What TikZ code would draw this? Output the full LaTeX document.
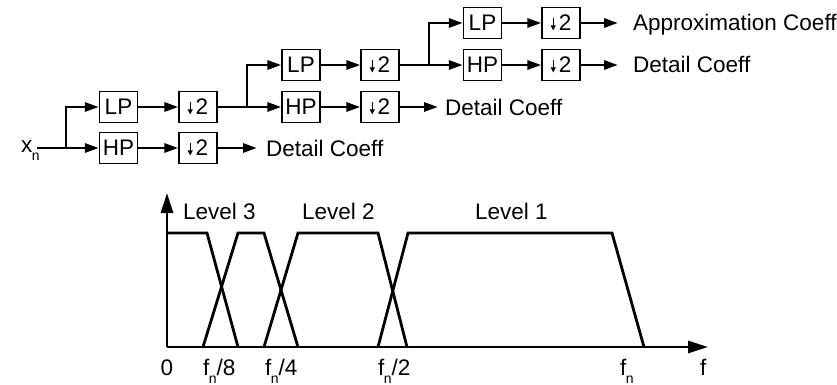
\documentclass[tikz,border=0pt]{standalone}
\usepackage{fontspec}
\setmainfont{Liberation Sans}
\usetikzlibrary{arrows.meta}
\newcommand{\subn}{\kern-0.5pt\raisebox{-8.5pt}{\fontsize{14}{14}\selectfont n}}
\newcommand{\dnarrow}{\tikz[x=1pt,y=1pt,baseline=0pt]\draw[line width=1pt,-{Triangle[length=5pt,width=5pt]}] (0,13) -- (0,0.5);}
\newcommand{\downtwo}{\dnarrow\kern3pt 2}
\tikzset{
  sig/.style={line width=2.8pt, -{Triangle[length=14pt,width=9pt]}},
  blk/.style={draw, line width=1.3pt, minimum width=38pt, minimum height=31pt, inner sep=0pt,
              font=\fontsize{22.5}{26}\selectfont},
  lbl/.style={inner sep=0pt, font=\fontsize{22.5}{26}\selectfont},
  curve/.style={line width=2.8pt, line join=miter},
  axis/.style={line width=2.8pt, -{Triangle[length=20pt,width=12pt]}},
}
\begin{document}
\begin{tikzpicture}[x=1pt,y=-1pt]
\useasboundingbox (0,0) rectangle (837,385);

% ---- filter bank ----
% level 1
\node[blk] (HP1) at (118.5,148) {HP};
\node[blk] (LP1) at (118.5,107) {LP};
\node[blk] (DH1) at (198,148) {\downtwo};
\node[blk] (DL1) at (198,107) {\downtwo};
% level 2
\node[blk] (LP2) at (301,65) {LP};
\node[blk] (HP2) at (301,107) {HP};
\node[blk] (DL2) at (380,65) {\downtwo};
\node[blk] (DH2) at (380,107) {\downtwo};
% level 3
\node[blk] (LP3) at (482.5,23) {LP};
\node[blk] (HP3) at (482.5,65) {HP};
\node[blk] (DL3) at (561,23) {\downtwo};
\node[blk] (DH3) at (561,65) {\downtwo};

% input
\node[lbl, anchor=base west] (xn) at (21,152) {x\subn};
\coordinate (in) at (37,148);
\coordinate (b1) at (66,148);
\coordinate (b2) at (247,107);
\coordinate (b3) at (429,65);

\draw[sig] (in) -- (HP1);
\draw[sig] (b1) |- (LP1.west);
\draw[sig] (LP1) -- (DL1);
\draw[sig] (HP1) -- (DH1);
\draw[sig] (DL1) -- (HP2);
\draw[sig] (b2) |- (LP2.west);
\draw[sig] (LP2) -- (DL2);
\draw[sig] (HP2) -- (DH2);
\draw[sig] (DL2) -- (HP3);
\draw[sig] (b3) |- (LP3.west);
\draw[sig] (LP3) -- (DL3);
\draw[sig] (HP3) -- (DH3);

% outputs
\coordinate (oD1) at (257,148);
\coordinate (oD2) at (438,107);
\coordinate (oA3) at (618,23);
\coordinate (oD3) at (618,65);
\node[lbl, anchor=base west] (tD1) at (266,156) {Detail Coeff};
\node[lbl, anchor=base west] (tD2) at (445,115) {Detail Coeff};
\node[lbl, anchor=base west] (tA3) at (633,31) {Approximation Coeff};
\node[lbl, anchor=base west] (tD3) at (633,73) {Detail Coeff};
\draw[sig] (DH1) -- (oD1);
\draw[sig] (DH2) -- (oD2);
\draw[sig] (DL3) -- (oA3);
\draw[sig] (DH3) -- (oD3);

% ---- frequency bands ----
\coordinate (O) at (167,347);
\coordinate (ytop) at (167,193);
\coordinate (xend) at (708,347);
\draw[axis] (O) -- (ytop);
\draw[axis] (O) -- (xend);

\draw[curve] (167,233) -- (207,233) -- (238,347);
\draw[curve] (203,347) -- (238,233) -- (264,233) -- (298,347);
\draw[curve] (264,347) -- (298,233) -- (378,233) -- (407,347);
\draw[curve] (378,347) -- (408,233) -- (612,233) -- (644,347);

\node[lbl, anchor=base west] (L3) at (183,219) {Level 3};
\node[lbl, anchor=base west] (L2) at (302,219) {Level 2};
\node[lbl, anchor=base west] (L1) at (475,219) {Level 1};

\node[lbl, anchor=base] (f0) at (167,375) {0};
\node[lbl, anchor=base west] (f8) at (203,375) {f\subn/8};
\node[lbl, anchor=base west] (f4) at (265,375) {f\subn/4};
\node[lbl, anchor=base west] (f2) at (378,375) {f\subn/2};
\node[lbl, anchor=base west] (f1) at (620,375) {f\subn};
\node[lbl, anchor=base west] (ff) at (700,375) {f};
\end{tikzpicture}
\end{document}
